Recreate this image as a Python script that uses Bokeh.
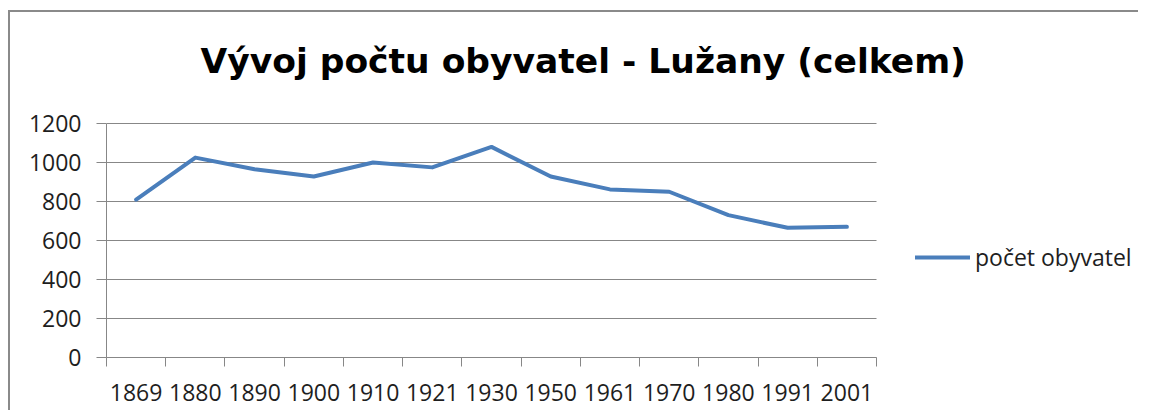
from bokeh.plotting import figure
from bokeh.models import (Range1d, LinearAxis, FixedTicker, Legend, LegendItem, Label,
                          ColumnDataSource)
from bokeh.embed import file_html
from bokeh.resources import INLINE

# ---- data ----
years = ["1869", "1880", "1890", "1900", "1910", "1921", "1930",
         "1950", "1961", "1970", "1980", "1991", "2001"]
population = [810, 1025, 965, 928, 1000, 975, 1080, 928, 862, 850, 730, 665, 670]
y_ticks = [0, 200, 400, 600, 800, 1000, 1200]
series_name = "počet obyvatel"
title_text = "Vývoj počtu obyvatel - Lužany (celkem)"

# category slots: each year occupies one unit, point at the slot centre
n = len(years)
centers = [i + 0.5 for i in range(n)]
bounds = list(range(n + 1))
y_max = y_ticks[-1]

# ---- layout (pixels) ----
CANVAS_W, CANVAS_H = 1130, 400
LEFT, BOTTOM = 96, 55
PLOT_W, PLOT_H = 770, 234            # visible plotting area inside the frame
FRAME_W, FRAME_H = CANVAS_W - LEFT, CANVAS_H - BOTTOM

# ---- styles ----
GRAY = "#878787"
BLUE = "#4A7EBB"
TEXT = "#1e1e1e"
FONT = "Open Sans"

p = figure(width=CANVAS_W, height=CANVAS_H,
           x_range=Range1d(0, n * FRAME_W / PLOT_W),
           y_range=Range1d(0, y_max * FRAME_H / PLOT_H),
           output_backend="svg", toolbar_location=None,
           x_axis_location=None, y_axis_location="left",
           min_border_left=LEFT, min_border_right=0,
           min_border_top=0, min_border_bottom=BOTTOM,
           outline_line_color=None,
           background_fill_color="white", border_fill_color="white")
p.styles = {"border-left": "2px solid #8a8a8a", "border-top": "2px solid #8a8a8a",
            "margin-top": "10px", "margin-left": "8px"}

for g in p.grid:
    g.visible = False

# horizontal gridlines
p.segment(x0=[0] * len(y_ticks), x1=[n] * len(y_ticks), y0=y_ticks, y1=y_ticks,
          line_color=GRAY, line_width=1)

# boundary ticks (between categories)
tick_axis = LinearAxis(ticker=FixedTicker(ticks=bounds), bounds=(0, n),
                       major_tick_out=9, major_tick_in=0,
                       minor_tick_out=0, minor_tick_in=0,
                       axis_line_color=GRAY, major_tick_line_color=GRAY,
                       major_label_text_font_size="1px", major_label_text_alpha=0,
                       major_label_standoff=0)
p.add_layout(tick_axis, "below")

label_axis = LinearAxis(ticker=FixedTicker(ticks=centers), bounds=(0, n),
                        major_label_overrides={c: y for c, y in zip(centers, years)},
                        major_tick_out=0, major_tick_in=0,
                        minor_tick_out=0, minor_tick_in=0,
                        axis_line_color=None, major_tick_line_color=None,
                        major_label_standoff=17,
                        major_label_text_font=FONT,
                        major_label_text_font_size="23px",
                        major_label_text_color=TEXT)
p.add_layout(label_axis, "below")

# y axis
yax = p.yaxis[0]
yax.ticker = FixedTicker(ticks=y_ticks)
yax.bounds = (0, y_max)
yax.major_tick_out = 10
yax.major_tick_in = 0
yax.minor_tick_out = 0
yax.minor_tick_in = 0
yax.axis_line_color = GRAY
yax.major_tick_line_color = GRAY
yax.major_label_standoff = 15
yax.major_label_text_font = FONT
yax.major_label_text_font_size = "23px"
yax.major_label_text_color = TEXT

src = ColumnDataSource(data=dict(x=centers, year=years, pop=population))
r = p.line(x="x", y="pop", source=src, line_color=BLUE, line_width=4,
           line_join="round", line_cap="round")

legend = Legend(items=[LegendItem(label=series_name, renderers=[r])],
                location=(809, 84), padding=0, margin=0, spacing=0,
                border_line_color=None, background_fill_alpha=0,
                glyph_width=55, glyph_height=20, label_standoff=5,
                label_text_font=FONT, label_text_font_size="23px",
                label_text_color=TEXT)
p.add_layout(legend)

title = Label(x=94, y=296.7, x_units="screen", y_units="screen", text=title_text,
              text_font="DejaVu Sans", text_font_style="bold", text_font_size="34.5px",
              text_baseline="alphabetic", text_align="left", text_color="#000000")
p.add_layout(title)

open("out.html", "w").write(file_html(p, INLINE))
